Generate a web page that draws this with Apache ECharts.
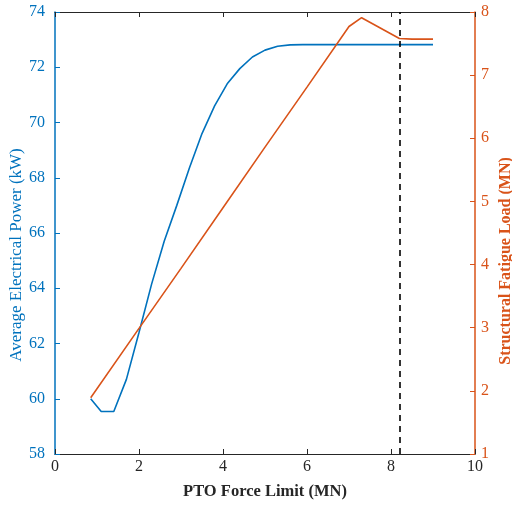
<!DOCTYPE html>
<html>
<head>
<meta charset="utf-8">
<script src="https://cdn.jsdelivr.net/npm/echarts@6/dist/echarts.min.js"></script>
<style>
  html, body { margin: 0; padding: 0; background: #fff; }
  #main { width: 512px; height: 507px; }
</style>
</head>
<body>
<div id="main"></div>
<script>
// PTO force limit (MN) for the power curve
var powerX = [0.85, 1.1, 1.4, 1.7, 2.0, 2.3, 2.6, 2.9, 3.2, 3.5, 3.8, 4.1, 4.4, 4.7, 5.0, 5.3, 5.6, 5.9, 6.5, 7.0, 7.5, 8.0, 8.5, 9.0];
// average electrical power (kW)
var powerY = [60.0, 59.54, 59.54, 60.7, 62.4, 64.15, 65.7, 67.0, 68.35, 69.6, 70.6, 71.4, 71.95, 72.37, 72.62, 72.76, 72.81, 72.82, 72.82, 72.82, 72.82, 72.82, 72.82, 72.82];

// structural fatigue load (MN)
var loadX = [0.85, 2.0, 3.0, 4.0, 5.0, 6.0, 7.0, 7.3, 8.2, 8.5, 9.0];
var loadY = [1.89, 2.99, 3.94, 4.90, 5.86, 6.81, 7.77, 7.91, 7.58, 7.57, 7.57];

var limitX = 8.2; // dashed marker

var blue = '#0072BD';
var orange = '#D95319';
var font = 'Liberation Serif';

function pairs(xs, ys) {
  var out = [];
  for (var i = 0; i < xs.length; i++) {
    out.push([xs[i], ys[i]]);
  }
  return out;
}

var chart = echarts.init(document.getElementById('main'), null, { renderer: 'canvas' });

chart.setOption({
  animation: false,
  textStyle: { fontFamily: font },
  grid: {
    left: 55,
    right: 37,
    top: 12,
    bottom: 53,
    outerBoundsMode: 'none',
    containLabel: false
  },
  // y axis titles placed by hand, the axis name layout kept pushing them around
  graphic: [{
    type: 'text',
    x: 17,
    y: 255,
    rotation: Math.PI / 2,
    style: {
      text: 'Average Electrical Power (kW)',
      fill: blue,
      font: '17px "Liberation Serif"',
      align: 'center',
      verticalAlign: 'middle'
    }
  }, {
    type: 'text',
    x: 506,
    y: 261,
    rotation: Math.PI / 2,
    style: {
      text: 'Structural Fatigue Load (MN)',
      fill: orange,
      font: 'bold 16px "Liberation Serif"',
      align: 'center',
      verticalAlign: 'middle'
    }
  }],
  xAxis: [{
    type: 'value',
    min: 0,
    max: 10,
    interval: 2,
    name: 'PTO Force Limit (MN)',
    nameLocation: 'middle',
    nameGap: 29,
    nameMoveOverlap: false,
    nameTextStyle: { color: '#262626', fontSize: 16.5, fontWeight: 'bold', fontFamily: font },
    axisLine: { onZero: false, lineStyle: { color: '#262626', width: 1.2 } },
    axisTick: { inside: true, length: 5, lineStyle: { color: '#262626' } },
    axisLabel: { color: '#262626', fontSize: 16, fontFamily: font, margin: 5 },
    splitLine: { show: false }
  }, {
    type: 'value',
    position: 'top',
    min: 0,
    max: 10,
    interval: 2,
    axisLine: { onZero: false, lineStyle: { color: '#262626', width: 1.2 } },
    axisTick: { inside: true, length: 5, lineStyle: { color: '#262626' } },
    axisLabel: { show: false },
    splitLine: { show: false }
  }],
  yAxis: [{
    type: 'value',
    min: 58,
    max: 74,
    interval: 2,
    axisLine: { show: true, onZero: false, lineStyle: { color: blue, width: 1.5 } },
    axisTick: { show: true, inside: true, length: 5, lineStyle: { color: blue } },
    axisLabel: { color: blue, fontSize: 16, fontFamily: font, margin: 10 },
    splitLine: { show: false }
  }, {
    type: 'value',
    position: 'right',
    min: 1,
    max: 8,
    interval: 1,
    axisLine: { show: true, onZero: false, lineStyle: { color: orange, width: 1.5 } },
    axisTick: { show: true, inside: true, length: 5, lineStyle: { color: orange } },
    axisLabel: { color: orange, fontSize: 16, fontFamily: font, margin: 6 },
    splitLine: { show: false }
  }],
  series: [{
    name: 'Power',
    type: 'line',
    xAxisIndex: 0,
    yAxisIndex: 0,
    data: pairs(powerX, powerY),
    showSymbol: false,
    lineStyle: { color: blue, width: 1.6 },
    markLine: {
      silent: true,
      symbol: 'none',
      label: { show: false },
      lineStyle: { color: '#000', type: [6, 5], width: 1.6 },
      data: [{ xAxis: limitX }]
    }
  }, {
    name: 'Load',
    type: 'line',
    xAxisIndex: 0,
    yAxisIndex: 1,
    data: pairs(loadX, loadY),
    showSymbol: false,
    lineStyle: { color: orange, width: 1.6 }
  }]
});
</script>
</body>
</html>
